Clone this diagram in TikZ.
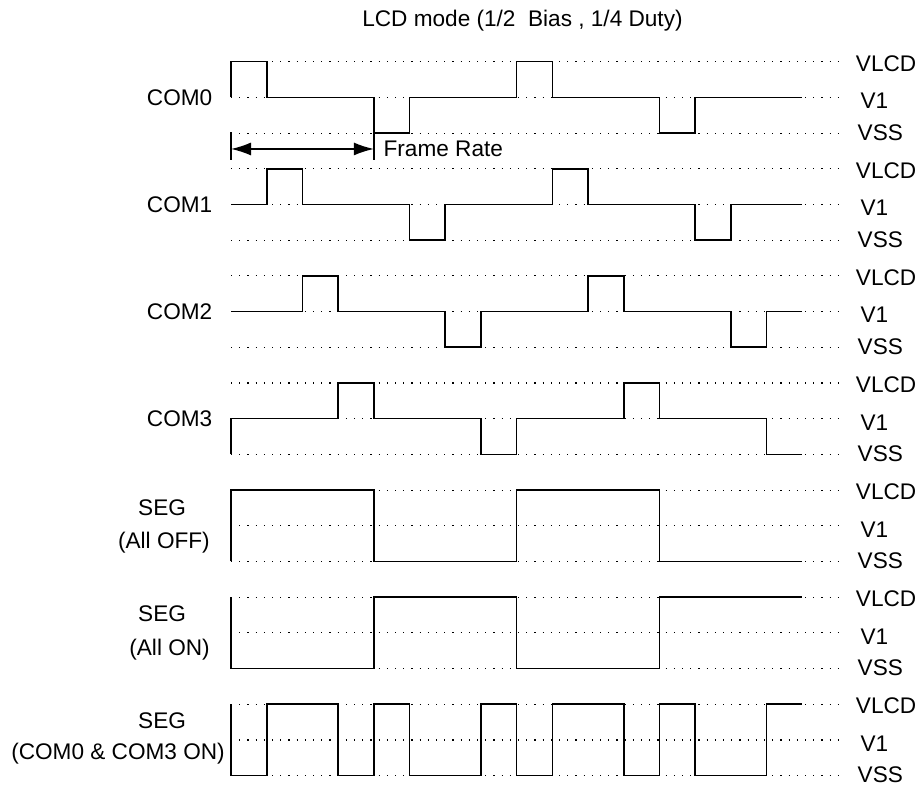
\documentclass[tikz,border=0pt]{standalone}
\usepackage{fontspec}
\setmainfont{Liberation Sans}
\usetikzlibrary{arrows.meta}
\tikzset{wave/.style = {line width=1.6pt, line join=miter},
         level line/.style = {line width=1.1pt, dash pattern=on 1.1pt off 7.1pt},
         lbl/.style = {font=\fontsize{22.6}{27}\selectfont, inner sep=0pt},
         frame arrow/.style = {line width=1.4pt,
                               {Latex[length=20pt,width=13pt]}-{Latex[length=20pt,width=13pt]}}}

\begin{document}
\begin{tikzpicture}[x=35.7pt, y=35.7pt]
      \useasboundingbox (-6.471, 1.728) rectangle (19.328, -20.345);

      \node [lbl] (title) at (8.165, 1.14) {LCD mode (1/2\ \ Bias , 1/4 Duty)};

      % voltage levels
      \foreach \r in {0,...,20}
        \draw [level line] (0, -\r) -- (17, -\r);
      \foreach \g in {0,...,6} {
        \node [lbl, anchor=west] (vlcd\g) at (17.5, -3*\g-0.05) {VLCD};
        \node [lbl, anchor=west] (vone\g) at (17.63, -3*\g-1.1) {V1};
        \node [lbl, anchor=west] (vss\g) at (17.55, -3*\g-1.98) {VSS};
      }

      % signal names
      \foreach \g in {0,...,3}
        \node [lbl, anchor=east] (com\g) at (-0.52, -3*\g-1) {COM\g};
      \node [lbl] (segoff) at (-1.93, -12.5) {SEG};
      \node [lbl, anchor=east] (segoffnote) at (-0.59, -13.47) {(All OFF)};
      \node [lbl] (segon) at (-1.93, -15.45) {SEG};
      \node [lbl, anchor=east] (segonnote) at (-0.59, -16.47) {(All ON)};
      \node [lbl] (segmix) at (-1.93, -18.45) {SEG};
      \node [lbl, anchor=east] (segmixnote) at (-0.17, -19.37) {(COM0 \& COM3 ON)};

      % common lines
      \draw [wave] (0, -1) -- (0, 0) -- (1, 0) -- (1, -1) -- (4, -1) -- (4, -2) -- (5, -2) -- (5, -1)
                   -- (8, -1) -- (8, 0) -- (9, 0) -- (9, -1) -- (12, -1) -- (12, -2) -- (13, -2) -- (13, -1) -- (16, -1);
      \draw [wave] (0, -4) -- (1, -4) -- (1, -3) -- (2, -3) -- (2, -4) -- (5, -4) -- (5, -5) -- (6, -5) -- (6, -4)
                   -- (9, -4) -- (9, -3) -- (10, -3) -- (10, -4) -- (13, -4) -- (13, -5) -- (14, -5) -- (14, -4) -- (16, -4);
      \draw [wave] (0, -7) -- (2, -7) -- (2, -6) -- (3, -6) -- (3, -7) -- (6, -7) -- (6, -8) -- (7, -8) -- (7, -7)
                   -- (10, -7) -- (10, -6) -- (11, -6) -- (11, -7) -- (14, -7) -- (14, -8) -- (15, -8) -- (15, -7) -- (16, -7);
      \draw [wave] (0, -11) -- (0, -10) -- (3, -10) -- (3, -9) -- (4, -9) -- (4, -10) -- (7, -10) -- (7, -11) -- (8, -11)
                   -- (8, -10) -- (11, -10) -- (11, -9) -- (12, -9) -- (12, -10) -- (15, -10) -- (15, -11) -- (16, -11);

      % segment lines
      \draw [wave] (0, -14) -- (0, -12) -- (4, -12) -- (4, -14) -- (8, -14) -- (8, -12) -- (12, -12) -- (12, -14) -- (16, -14);
      \draw [wave] (0, -15) -- (0, -17) -- (4, -17) -- (4, -15) -- (8, -15) -- (8, -17) -- (12, -17) -- (12, -15) -- (16, -15);
      \draw [wave] (0, -18) -- (0, -20) -- (1, -20) -- (1, -18) -- (3, -18) -- (3, -20) -- (4, -20) -- (4, -18) -- (5, -18)
                   -- (5, -20) -- (7, -20) -- (7, -18) -- (8, -18) -- (8, -20) -- (9, -20) -- (9, -18) -- (11, -18)
                   -- (11, -20) -- (12, -20) -- (12, -18) -- (13, -18) -- (13, -20) -- (15, -20) -- (15, -18) -- (16, -18);

      % frame rate
      \coordinate (framestart) at (0, -2.445);
      \coordinate (frameend) at (4, -2.445);
      \draw [line width=1.4pt] (0, -1.97) -- (0, -2.75);
      \draw [line width=1.4pt] (4, -2) -- (4, -2.75);
      \draw [frame arrow] (framestart) -- (frameend);
      \node [lbl, anchor=west] (framerate) at (4.27, -2.445) {Frame Rate};
    \end{tikzpicture}
\end{document}
